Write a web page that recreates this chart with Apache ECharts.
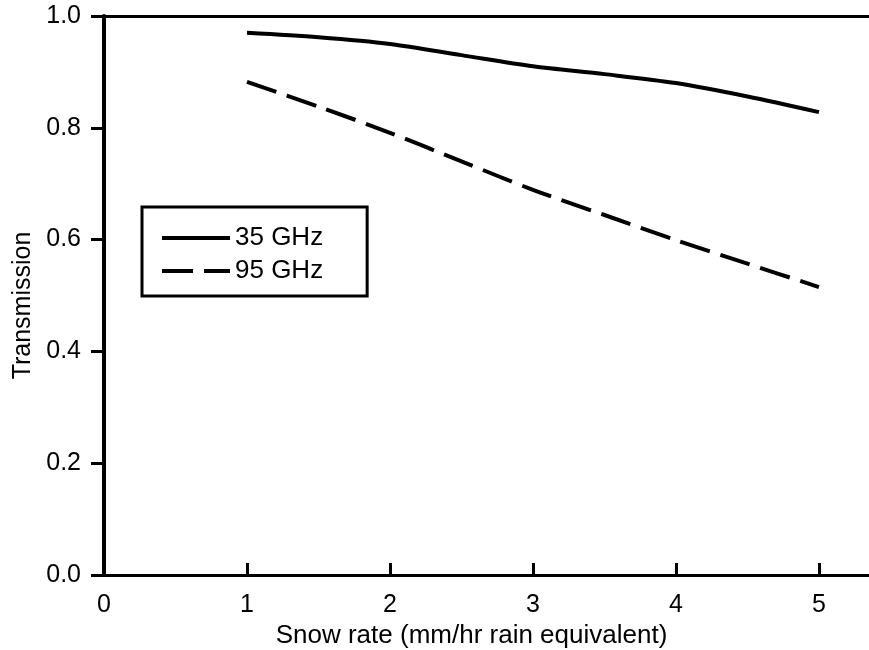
<!DOCTYPE html>
<html>
<head>
<meta charset="utf-8">
<script src="https://cdn.jsdelivr.net/npm/echarts@6/dist/echarts.min.js"></script>
<style>
  html, body { margin: 0; padding: 0; background: #fff; }
  #chart { width: 869px; height: 650px; }
</style>
</head>
<body>
<div id="chart"></div>
<script>
// 数据
var snowRate = [1, 1.5, 2, 2.5, 3, 3.5, 4, 4.5, 5];
var trans35 = [0.970, 0.962, 0.950, 0.930, 0.910, 0.896, 0.880, 0.856, 0.828];
var trans95 = [0.882, 0.838, 0.791, 0.740, 0.689, 0.644, 0.599, 0.557, 0.515];
var xTickValues = [0, 1, 2, 3, 4, 5];
var xTickMarks = [1, 2, 3, 4, 5];
var seriesNames = ["35 GHz", "95 GHz"];

(function() {
  var myChart = echarts.init(document.getElementById("chart"));
  var font = "Liberation Sans, Arial, sans-serif";
  var dash = [31, 11];

  function pairs(xs, ys) {
    return xs.map(function(x, i) { return [x, ys[i]]; });
  }

  var option = {
    animation: false,
    backgroundColor: "#fff",
    color: ["#000", "#000"],
    textStyle: { fontFamily: font, color: "#000" },
    grid: { left: 104, top: 16, right: 0, bottom: 75, containLabel: false, outerBoundsMode: "none" },
    legend: {
      orient: "vertical",
      left: 142,
      top: 207,
      padding: [17, 44, 11, 18],
      itemGap: 5,
      itemWidth: 68,
      itemHeight: 14,
      borderColor: "#000",
      borderWidth: 3,
      itemStyle: { opacity: 0 },
      textStyle: { fontFamily: font, fontSize: 26, color: "#000", lineHeight: 28 },
      data: [
        { name: seriesNames[0], lineStyle: { color: "#000", width: 4, type: "solid" } },
        { name: seriesNames[1], lineStyle: { color: "#000", width: 4, type: dash } }
      ]
    },
    xAxis: [
      {
        type: "value",
        min: 0,
        max: 5.35,
        interval: 1,
        name: "Snow rate (mm/hr rain equivalent)",
        nameLocation: "middle",
        nameGap: 48,
        nameTextStyle: { fontSize: 26, color: "#000", padding: [0, 30, 0, 0] },
        axisLine: { onZero: false, lineStyle: { color: "#000", width: 3 } },
        axisTick: {
          inside: false,
          length: -12,
          customValues: xTickMarks,
          lineStyle: { color: "#000", width: 3 }
        },
        axisLabel: {
          customValues: xTickValues,
          fontSize: 25,
          color: "#000",
          margin: 18
        },
        splitLine: { show: false }
      },
      {
        type: "value",
        position: "top",
        min: 0,
        max: 5.35,
        axisLine: { show: true, onZero: false, lineStyle: { color: "#000", width: 3 } },
        axisTick: { show: false },
        axisLabel: { show: false },
        splitLine: { show: false }
      }
    ],
    yAxis: {
      type: "value",
      min: 0,
      max: 1,
      interval: 0.2,
      name: "Transmission",
      nameLocation: "middle",
      nameGap: 66,
      nameTextStyle: { fontSize: 25, color: "#000", padding: [0, 20, 0, 0] },
      axisLine: { show: true, onZero: false, lineStyle: { color: "#000", width: 4 } },
      axisTick: { length: 13, lineStyle: { color: "#000", width: 3 } },
      axisLabel: {
        fontSize: 25,
        color: "#000",
        margin: 23,
        formatter: function(v) { return v.toFixed(1); }
      },
      splitLine: { show: false }
    },
    series: [
      {
        name: seriesNames[0],
        type: "line",
        data: pairs(snowRate, trans35),
        smooth: 0.3,
        showSymbol: false,
        symbol: "none",
        itemStyle: { color: "#000" },
        lineStyle: { color: "#000", width: 4 }
      },
      {
        name: seriesNames[1],
        type: "line",
        data: pairs(snowRate, trans95),
        smooth: 0.3,
        showSymbol: false,
        symbol: "none",
        itemStyle: { color: "#000" },
        lineStyle: { color: "#000", width: 4, type: dash }
      }
    ]
  };

  myChart.setOption(option);
  window.addEventListener("resize", function() {
    myChart.resize();
  });
})();
</script>
</body>
</html>
